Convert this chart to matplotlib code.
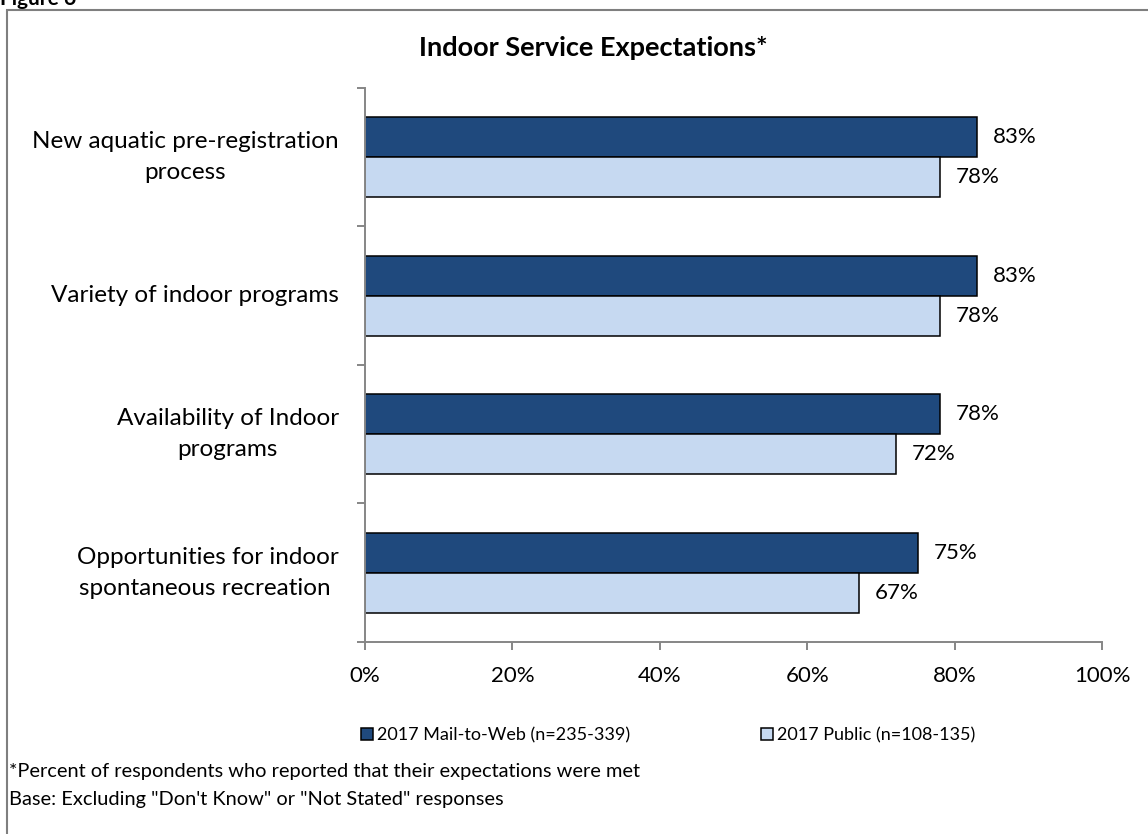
import numpy as np
import matplotlib.pyplot as plt
from matplotlib.patches import Rectangle

plt.rcParams['font.family'] = ['Lato', 'DejaVu Sans']

# Categories and results (% whose expectations were met)
categories = [
    "New aquatic pre-registration\nprocess",
    "Variety of indoor programs",
    "Availability of Indoor\nprograms",
    "Opportunities for indoor\nspontaneous recreation ",
]
mail_to_web = [83, 83, 78, 75]
public = [78, 78, 72, 67]
series_names = ["2017 Mail-to-Web (n=235-339)", "2017 Public (n=108-135)"]
x_ticks = [0, 20, 40, 60, 80, 100]

dark = '#1F497D'
light = '#C6D9F1'
axis_gray = '#868686'

fig = plt.figure(figsize=(11.48, 8.34), dpi=100)
ax = fig.add_axes([0.318, 0.2302, 0.642, 0.6646])

y = np.arange(len(categories))
h = 0.289
ax.barh(y - h / 2, mail_to_web, height=h, color=dark, edgecolor='black',
        linewidth=1.1, label=series_names[0])
ax.barh(y + h / 2, public, height=h, color=light, edgecolor='black',
        linewidth=1.1, label=series_names[1])

for yi, v in zip(y, mail_to_web):
    ax.text(v + 2.2, yi - h / 2, f"{v}%", va='center', ha='left', fontsize=16)
for yi, v in zip(y, public):
    ax.text(v + 2.2, yi + h / 2, f"{v}%", va='center', ha='left', fontsize=16)

ax.set_xlim(0, 100)
ax.set_ylim(len(categories) - 0.5, -0.5)

ax.set_xticks(x_ticks)
ax.set_xticklabels([f"{t}%" for t in x_ticks], fontsize=16)
ax.tick_params(axis='x', length=6, width=1.4, color=axis_gray, pad=11)

ax.set_yticks(y)
ax.set_yticklabels(categories, fontsize=17.5, ha='right', va='center',
                   multialignment='center', linespacing=1.6)
ax.set_yticks(np.arange(-0.5, len(categories)), minor=True)
ax.tick_params(axis='y', which='major', length=0, pad=19)
ax.tick_params(axis='y', which='minor', length=6, width=1.4, color=axis_gray)

for side in ['top', 'right']:
    ax.spines[side].set_visible(False)
for side in ['left', 'bottom']:
    ax.spines[side].set_color(axis_gray)
    ax.spines[side].set_linewidth(1.4)

fig.text(0.5165, 0.943, "Indoor Service Expectations*", ha='center', va='center',
         fontsize=19.5, fontweight='bold')

leg = fig.legend(loc='center', bbox_to_anchor=(0.582, 0.1187), ncol=2,
                 frameon=False, fontsize=13, handlelength=0.68, handleheight=0.68,
                 handletextpad=0.25, columnspacing=7.2)

fig.text(0.008, 0.0744, "*Percent of respondents who reported that their expectations were met",
         ha='left', va='center', fontsize=14.4)
fig.text(0.008, 0.0408, "Base: Excluding \"Don't Know\" or \"Not Stated\" responses",
         ha='left', va='center', fontsize=14.4)

# Outer frame and the figure number above it
fig.patches.append(Rectangle((0.0065, -0.05), 1.1, 1.038, transform=fig.transFigure,
                             fill=False, edgecolor='#7F7F7F', linewidth=1.5))
fig.text(0.0, 0.994, "Figure 6", ha='left', va='baseline', fontsize=15,
         fontweight='bold')

fig.savefig('out.png', dpi=100)
